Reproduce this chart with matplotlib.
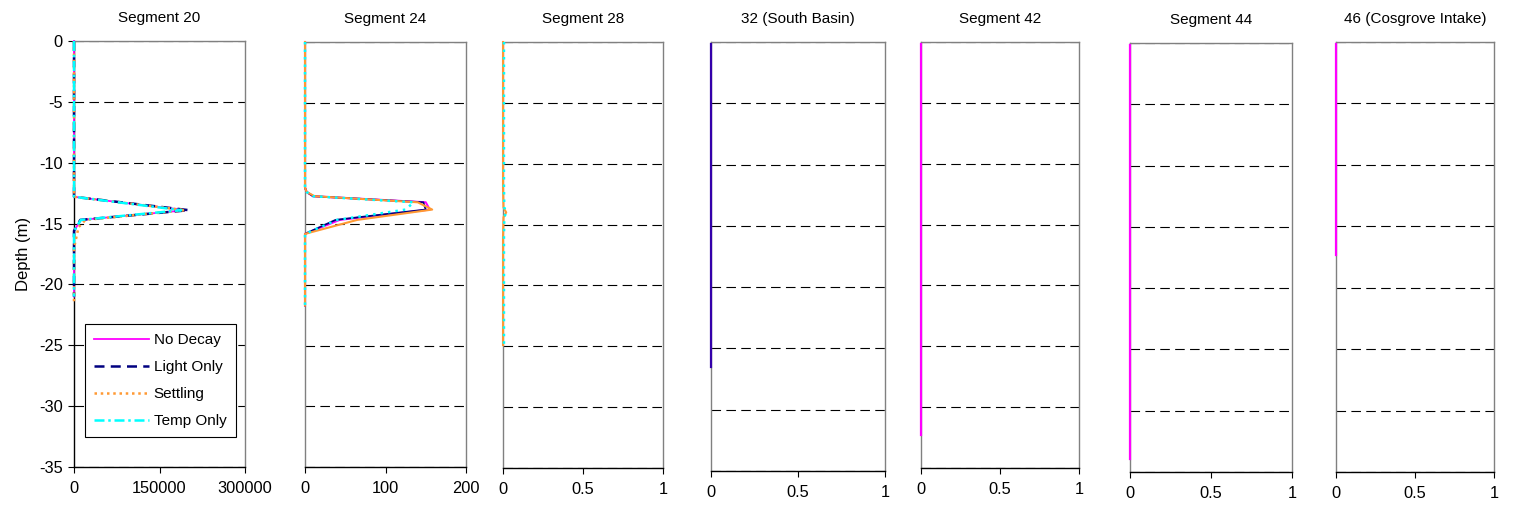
import matplotlib
matplotlib.use("Agg")
import matplotlib.pyplot as plt
from matplotlib.ticker import FormatStrFormatter

plt.rcParams["font.family"] = ["Liberation Sans", "DejaVu Sans"]
plt.rcParams["axes.unicode_minus"] = False

# ---- data ----
titles = ["Segment 20", "Segment 24", "Segment 28", "32 (South Basin)",
          "Segment 42", "Segment 44", "46 (Cosgrove Intake)"]
series_names = ["No Decay", "Light Only", "Settling", "Temp Only"]
xticks_list = [[0, 150000, 300000], [0, 100, 200], [0, 0.5, 1], [0, 0.5, 1],
               [0, 0.5, 1], [0, 0.5, 1], [0, 0.5, 1]]

# Segment 20
depth_20 = [0, -2, -4, -6, -8, -10, -12, -12.8, -13.9, -14.7, -15.6, -17, -19, -21]
depth_20_settling = [0, -2, -4, -6, -8, -10, -12, -12.8, -13.9, -14.7, -15.3, -17, -19, -21.5]
no_decay_20 = [0, 0, 0, 0, 0, 0, 0, 0, 197000, 12000, 0, 0, 0, 0]
light_20 = [0, 0, 0, 0, 0, 0, 0, 0, 202000, 11000, 0, 0, 0, 0]
settling_20 = [0, 0, 0, 0, 0, 0, 0, 0, 195000, 20000, 8000, 0, 0, 0]
temp_20 = [0, 0, 0, 0, 0, 0, 0, 0, 188000, 12000, 0, 0, 0, 0]

# Segment 24
depth_24 = [0, -2, -4, -6, -8, -10, -12, -12.35, -12.7, -13.2, -13.8, -14.65, -15.8, -17, -19, -21.7]
no_decay_24 = [0, 0, 0, 0, 0, 0, 0, 2, 10, 150, 155, 43, 0, 0, 0, 0]
light_24 = [0, 0, 0, 0, 0, 0, 0, 2, 10, 147, 150, 38, 0, 0, 0, 0]
settling_24 = [0, 0, 0, 0, 0, 0, 0, 2, 12, 140, 158, 65, 0, 0, 0, 0]
temp_24 = [0, 0, 0, 0, 0, 0, 0, 2, 10, 135, 125, 40, 0, 0, 0, 0]

# Segment 28
depth_28 = [0, -4, -8, -12, -13.6, -14.0, -14.4, -16, -20, -24.9]
settling_28 = [0, 0, 0, 0, 0.003, 0.02, 0.003, 0, 0, 0]
temp_28 = [0.006, 0.006, 0.006, 0.006, 0.008, 0.02, 0.008, 0.006, 0.006, 0.006]

# Segments 32, 42, 44, 46
depth_32 = [-0.2, -26.5]
light_32 = [0, 0]
depth_42 = [-0.2, -32.3]
no_decay_42 = [0, 0]
depth_44 = [-0.2, -33.9]
no_decay_44 = [0, 0]
depth_46 = [-0.2, -17.3]
no_decay_46 = [0, 0]

# ---- layout (pixels in a 1514x505 canvas) ----
W, H = 1514, 505
boxes = [(74, 245, 41, 467), (305, 466, 42, 467), (503, 663, 42, 468),
         (711, 885, 42, 471), (921, 1079, 42, 468), (1130, 1292, 43, 472),
         (1336, 1494, 42, 472)]

MAGENTA = "#ff00ff"
NAVY = "#000080"
ORANGE = "#ff9933"
CYAN = "#00ffff"
INDIGO = "#3300aa"
GRAY = "#808080"

fig = plt.figure(figsize=(W / 100, H / 100), dpi=100)
axes = []
for (l, r, t, b) in boxes:
    ax = fig.add_axes([l / W, 1 - b / H, (r - l) / W, (b - t) / H])
    axes.append(ax)

for i, ax in enumerate(axes):
    xt = xticks_list[i]
    ax.set_xlim(xt[0], xt[-1])
    ax.set_ylim(-35, 0)
    ax.set_xticks(xt)
    ax.xaxis.set_major_formatter(FormatStrFormatter("%g"))
    ax.set_yticks(range(-35, 1, 5))
    ax.set_axisbelow(True)
    ax.yaxis.grid(True, color="black", linewidth=0.8, linestyle=(0, (8.6, 4.8)))
    ax.xaxis.grid(False)
    for s in ["top", "right", "left"]:
        ax.spines[s].set_color(GRAY)
        ax.spines[s].set_linewidth(1.0)
    ax.spines["bottom"].set_color("black")
    ax.spines["bottom"].set_linewidth(1.0)
    ax.tick_params(axis="x", direction="out", length=4, width=0.8,
                   labelsize=11.8, pad=6)
    if i == 0:
        ax.spines["left"].set_color("black")
        ax.tick_params(axis="y", direction="out", length=4, width=0.8,
                       labelsize=11.8, pad=4)
        ax.set_ylabel("Depth (m)", fontsize=12, labelpad=6)
    else:
        ax.tick_params(axis="y", left=False, labelleft=False)
    ax.set_title(titles[i], fontsize=11, pad=14)

line_kw = dict(zorder=3, clip_on=False)

# Segment 20
ax = axes[0]
ax.plot(no_decay_20, depth_20, color=MAGENTA, lw=1.3, ls="-", label=series_names[0], **line_kw)
ax.plot(light_20, depth_20, color=NAVY, lw=1.8, ls=(0, (4, 2.5)), label=series_names[1], **line_kw)
ax.plot(settling_20, depth_20_settling, color=ORANGE, lw=1.8, ls=(0, (1, 1.5)), label=series_names[2], **line_kw)
ax.plot(temp_20, depth_20, color=CYAN, lw=1.8, ls=(0, (4, 1.5, 1, 1.5)), label=series_names[3], **line_kw)
leg = ax.legend(loc="lower left", bbox_to_anchor=(0.064, 0.070), borderaxespad=0,
                fontsize=11, handlelength=3.6, handletextpad=0.3, labelspacing=0.85,
                fancybox=False, framealpha=1, edgecolor="black", borderpad=0.6)
leg.get_frame().set_linewidth(0.8)
leg.set_zorder(5)

# Segment 24
ax = axes[1]
ax.plot(no_decay_24, depth_24, color=MAGENTA, lw=1.5, **line_kw)
ax.plot(light_24, depth_24, color=NAVY, lw=1.3, **line_kw)
ax.plot(settling_24, depth_24, color=ORANGE, lw=1.5, **line_kw)
ax.plot(temp_24, depth_24, color=CYAN, lw=1.8, ls=(0, (1, 2)), **line_kw)

# Segment 28
ax = axes[2]
ax.plot(settling_28, depth_28, color=ORANGE, lw=1.5, **line_kw)
ax.plot(temp_28, depth_28, color=CYAN, lw=1.8, ls=(0, (1, 2)), **line_kw)

# Segment 32
axes[3].plot(light_32, depth_32, color=INDIGO, lw=1.6, **line_kw)
# Segments 42, 44, 46
axes[4].plot(no_decay_42, depth_42, color=MAGENTA, lw=1.6, **line_kw)
axes[5].plot(no_decay_44, depth_44, color=MAGENTA, lw=1.6, **line_kw)
axes[6].plot(no_decay_46, depth_46, color=MAGENTA, lw=1.6, **line_kw)

fig.savefig("out.png", dpi=100)
